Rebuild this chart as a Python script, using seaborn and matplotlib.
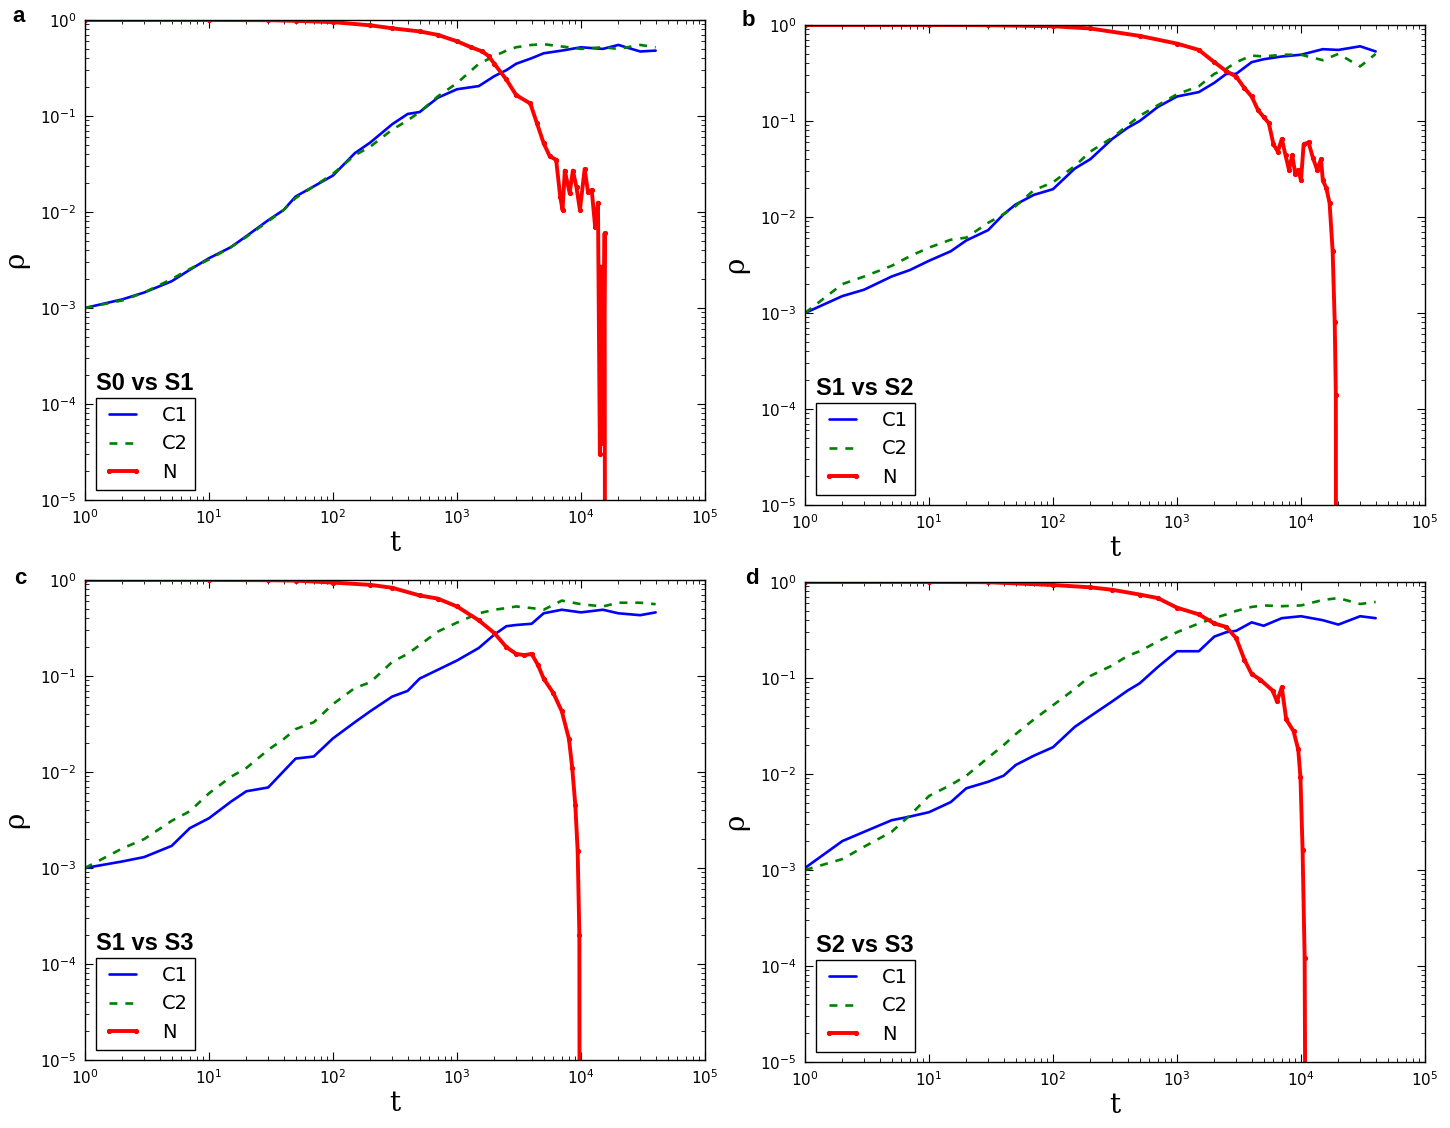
import matplotlib
matplotlib.use("Agg")
import matplotlib.pyplot as plt
import seaborn as sns

# time grid used for the C1 / C2 curves
t_c = [1, 2, 3, 5, 7, 10, 15, 20, 30, 40, 50, 70, 100, 150, 200, 300, 400, 500, 700,
       1000, 1500, 2000, 2500, 3000, 4000, 5000, 7000, 10000, 15000, 20000, 30000, 40000]

# panel a : S0 vs S1
c1_a = [1e-3, 1.23e-3, 1.45e-3, 1.9e-3, 2.5e-3, 3.3e-3, 4.3e-3, 5.6e-3, 8.2e-3, 1.05e-2, 1.45e-2,
        1.85e-2, 2.4e-2, 4.1e-2, 5.3e-2, 8.2e-2, 0.105, 0.11, 0.155, 0.19, 0.205, 0.26, 0.30, 0.35,
        0.40, 0.45, 0.48, 0.52, 0.50, 0.55, 0.47, 0.48]
c2_a = [1e-3, 1.2e-3, 1.45e-3, 2.0e-3, 2.55e-3, 3.2e-3, 4.3e-3, 5.5e-3, 8.0e-3, 1.05e-2, 1.4e-2,
        1.85e-2, 2.5e-2, 3.9e-2, 4.8e-2, 7.2e-2, 0.09, 0.11, 0.16, 0.22, 0.35, 0.42, 0.48, 0.52,
        0.55, 0.56, 0.53, 0.50, 0.52, 0.50, 0.55, 0.52]
tn_a = [1, 10, 30, 50, 100, 200, 300, 500, 700, 1000, 1300, 1600, 1800, 2000, 2500, 3000, 3900,
        4400, 5000, 5600, 6300, 6800, 7100, 7400, 8100, 8600, 9200, 9800, 10700, 11400, 12200,
        13000, 13700, 14200, 14600, 15100, 15500, 15700]
n_a = [1.0, 1.0, 0.995, 0.98, 0.95, 0.88, 0.82, 0.76, 0.70, 0.60, 0.52, 0.47, 0.42, 0.35, 0.24,
       0.165, 0.135, 0.085, 0.052, 0.038, 0.035, 0.0144, 0.0105, 0.027, 0.0158, 0.027, 0.018,
       0.0105, 0.028, 0.016, 0.017, 0.007, 0.0125, 3e-5, 2.7e-3, 3.9e-5, 6e-3, 1e-9]

# panel b : S1 vs S2
c1_b = [1e-3, 1.5e-3, 1.75e-3, 2.4e-3, 2.8e-3, 3.5e-3, 4.4e-3, 5.7e-3, 7.3e-3, 1.07e-2, 1.35e-2,
        1.7e-2, 1.95e-2, 3.2e-2, 4.0e-2, 6.5e-2, 0.085, 0.10, 0.14, 0.18, 0.20, 0.25, 0.31, 0.31,
        0.41, 0.44, 0.47, 0.49, 0.56, 0.55, 0.60, 0.53]
c2_b = [1e-3, 2.0e-3, 2.4e-3, 3.1e-3, 3.9e-3, 4.8e-3, 5.8e-3, 6.1e-3, 8.7e-3, 1.07e-2, 1.3e-2,
        1.9e-2, 2.3e-2, 3.4e-2, 4.8e-2, 6.7e-2, 0.09, 0.113, 0.146, 0.19, 0.23, 0.31, 0.35, 0.41,
        0.48, 0.47, 0.49, 0.49, 0.43, 0.50, 0.37, 0.50]
tn_b = [1, 10, 30, 100, 200, 500, 1000, 1500, 2000, 2500, 3000, 3500, 4000, 4500, 5000, 5500,
        6000, 6500, 7000, 7500, 8000, 8500, 9000, 9500, 10000, 10500, 11500, 12500, 13500, 14500,
        15000, 16000, 17000, 18000, 18700, 19100, 19200]
n_b = [1.0, 1.0, 0.995, 0.97, 0.92, 0.77, 0.64, 0.55, 0.41, 0.33, 0.29, 0.22, 0.18, 0.13, 0.11,
       0.095, 0.057, 0.048, 0.065, 0.044, 0.031, 0.044, 0.028, 0.031, 0.024, 0.057, 0.06, 0.041,
       0.031, 0.04, 0.024, 0.02, 0.014, 4.4e-3, 8e-4, 1.4e-4, 1e-9]

# panel c : S1 vs S3
c1_c = [1e-3, 1.17e-3, 1.3e-3, 1.7e-3, 2.6e-3, 3.3e-3, 4.9e-3, 6.3e-3, 6.9e-3, 1.02e-2, 1.38e-2,
        1.45e-2, 2.24e-2, 3.3e-2, 4.3e-2, 6.1e-2, 0.07, 0.094, 0.116, 0.145, 0.196, 0.27, 0.33,
        0.34, 0.35, 0.45, 0.49, 0.46, 0.49, 0.45, 0.43, 0.46]
c2_c = [1e-3, 1.6e-3, 2.0e-3, 3.1e-3, 3.9e-3, 6.0e-3, 8.9e-3, 1.1e-2, 1.7e-2, 2.2e-2, 2.8e-2,
        3.3e-2, 5.1e-2, 7.5e-2, 8.6e-2, 0.14, 0.17, 0.21, 0.29, 0.36, 0.45, 0.49, 0.51, 0.53,
        0.51, 0.49, 0.61, 0.56, 0.53, 0.58, 0.58, 0.56]
tn_c = [1, 10, 30, 50, 100, 200, 300, 500, 700, 1000, 1500, 2000, 2500, 3000, 3500, 4000, 4500,
        5000, 6000, 7000, 8000, 8500, 9000, 9400, 9700, 9800]
n_c = [1.0, 1.0, 0.995, 0.985, 0.94, 0.89, 0.83, 0.69, 0.64, 0.53, 0.38, 0.28, 0.2, 0.17, 0.165,
       0.17, 0.13, 0.094, 0.066, 0.043, 0.022, 0.011, 4.5e-3, 1.5e-3, 2e-4, 1e-9]

# panel d : S2 vs S3
c1_d = [1.05e-3, 2.0e-3, 2.5e-3, 3.3e-3, 3.6e-3, 4.0e-3, 5.1e-3, 7.1e-3, 8.3e-3, 9.6e-3, 1.24e-2,
        1.55e-2, 1.9e-2, 3.1e-2, 4.0e-2, 5.7e-2, 0.074, 0.088, 0.13, 0.19, 0.19, 0.27, 0.30, 0.31,
        0.38, 0.35, 0.42, 0.44, 0.40, 0.36, 0.44, 0.42]
c2_d = [1e-3, 1.3e-3, 1.75e-3, 2.5e-3, 3.7e-3, 5.9e-3, 7.7e-3, 9.6e-3, 1.48e-2, 2.0e-2, 2.6e-2,
        3.7e-2, 5.2e-2, 7.7e-2, 0.105, 0.135, 0.17, 0.19, 0.24, 0.30, 0.37, 0.42, 0.46, 0.50,
        0.55, 0.57, 0.56, 0.57, 0.65, 0.68, 0.59, 0.62]
tn_d = [1, 10, 30, 100, 200, 300, 500, 700, 1000, 1500, 2000, 2500, 3000, 3500, 4000, 4700, 5900,
        6400, 7000, 7600, 8700, 9500, 9900, 10300, 10700, 11100]
n_d = [1.0, 1.0, 0.995, 0.93, 0.88, 0.83, 0.74, 0.68, 0.54, 0.46, 0.37, 0.34, 0.26, 0.155, 0.11,
       0.096, 0.074, 0.057, 0.08, 0.037, 0.028, 0.018, 9.2e-3, 1.6e-3, 1.2e-4, 1e-9]

sns.set_style("ticks", {"axes.edgecolor": "black", "xtick.color": "black",
                        "ytick.color": "black", "text.color": "black",
                        "axes.labelcolor": "black"})
plt.rcParams["font.family"] = ["DejaVu Sans"]
plt.rcParams["mathtext.fontset"] = "dejavusans"

fig = plt.figure(figsize=(14.5, 11.28), dpi=100)
W, H = 1450.0, 1128.0

# (left px, top px, bottom px, letter px position, letter, title, data)
panels = [
    (85, 20, 500, (19, 16), "a", "S0 vs S1", c1_a, c2_a, tn_a, n_a),
    (805, 25, 505, (748, 20), "b", "S1 vs S2", c1_b, c2_b, tn_b, n_b),
    (85, 580, 1060, (20, 578), "c", "S1 vs S3", c1_c, c2_c, tn_c, n_c),
    (805, 582, 1062, (752, 578), "d", "S2 vs S3", c1_d, c2_d, tn_d, n_d),
]

for left, top, bottom, lpos, letter, title, c1, c2, tn, n in panels:
    ax = fig.add_axes([left / W, 1 - bottom / H, 620 / W, (bottom - top) / H])
    sns.lineplot(x=t_c, y=c1, ax=ax, color="#0000ff", lw=1.9, label="C1",
                 estimator=None, sort=False)
    sns.lineplot(x=t_c, y=c2, ax=ax, color="#008000", lw=1.9, linestyle=(0, (3, 3)),
                 label="C2", estimator=None, sort=False)
    sns.lineplot(x=tn, y=n, ax=ax, color="#ff0000", lw=2.8, marker=".", ms=6,
                 mec="#ff0000", mfc="#ff0000", label="N", estimator=None, sort=False)
    ax.set_xscale("log")
    ax.set_yscale("log")
    ax.set_xlim(1, 1e5)
    ax.set_ylim(1e-5, 1)
    ax.tick_params(which="both", direction="in", top=True, right=True, labelsize=11,
                   colors="black")
    ax.tick_params(which="major", length=6, width=0.8, pad=6)
    ax.tick_params(which="minor", length=3, width=0.6)
    for sp in ax.spines.values():
        sp.set_linewidth(1.0)
    ax.set_xlabel("t", fontsize=20, family="DejaVu Serif", labelpad=2)
    ax.set_ylabel("ρ", fontsize=20, family="DejaVu Serif", labelpad=8)

    leg = ax.legend(loc="lower left", bbox_to_anchor=(0.017, 0.021), borderaxespad=0,
                    fontsize=14, numpoints=2, fancybox=False, framealpha=1,
                    edgecolor="black", handlelength=2.0, labelspacing=0.5,
                    handletextpad=1.0, borderpad=0.4)
    leg.get_frame().set_linewidth(1.0)
    for txt in leg.get_texts():
        txt.set_color("black")
    ax.text(0.018, 0.229, title, transform=ax.transAxes, fontsize=17,
            fontweight="bold", family="Liberation Sans", va="baseline", color="black")
    fig.text(lpos[0] / W, 1 - lpos[1] / H, letter, fontsize=16, fontweight="bold",
             family="Liberation Sans", ha="center", va="center", color="black")

fig.savefig("out.png", dpi=100)
